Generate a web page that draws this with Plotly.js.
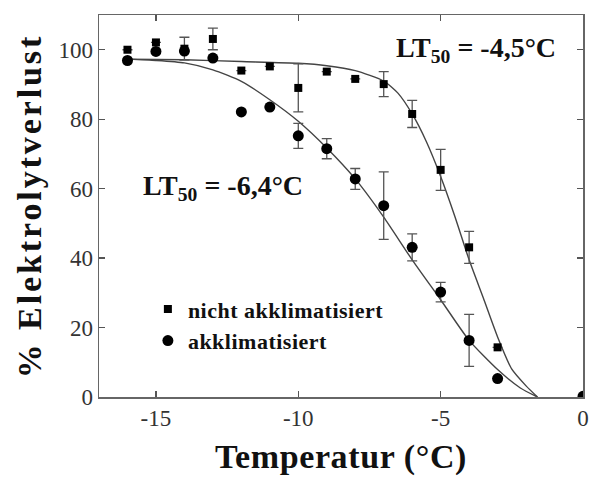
<!DOCTYPE html>
<html>
<head>
<meta charset="utf-8">
<script src="https://cdn.plot.ly/plotly-3.0.1.min.js"></script>
<style>
html,body{margin:0;padding:0;background:#fff;}
#chart{width:589px;height:479px;}
.ytitle{letter-spacing:2.9px;}
.xtitle{letter-spacing:0.6px;}
.legendtext{letter-spacing:0.5px;}
</style>
</head>
<body>
<div id="chart"></div>
<script>
// Measured data: nicht akklimatisiert (squares)
const tempNA = [-16, -15, -14, -13, -12, -11, -10, -9, -8, -7, -6, -5, -4, -3];
const lossNA = [100.0, 102.1, 100.3, 103.1, 94.0, 95.2, 89.0, 93.7, 91.6, 90.1, 81.5, 65.4, 43.1, 14.3];
const errNA  = [0, 0, 3.3, 3.1, 0, 0, 6.9, 0, 0, 3.6, 3.9, 5.9, 4.6, 0];

// Measured data: akklimatisiert (circles)
const tempA = [-16, -15, -14, -13, -12, -11, -10, -9, -8, -7, -6, -5, -4, -3, 0];
const lossA = [96.9, 99.5, 99.6, 97.6, 82.1, 83.5, 75.2, 71.5, 62.8, 55.1, 43.1, 30.2, 16.3, 5.3, 0.2];
const errA  = [0, 0, 0, 0, 0, 0, 3.6, 2.9, 3.0, 9.7, 3.9, 2.8, 7.5, 0, 0];

// Fitted curves
const fitNAx = [-16, -14, -12, -10, -9, -8, -7, -6.5, -6, -5.5, -5, -4.5, -4, -3.5, -3, -2.5, -2, -1.6];
const fitNAy = [97.3, 97.1, 96.6, 96.1, 95.4, 94.0, 91.0, 87.5, 81.5, 73.5, 63.5, 52.0, 39.5, 28.5, 17.3, 8.0, 3.2, 0];
const fitAx  = [-16, -15, -14, -13, -12, -11, -10, -9, -8, -7, -6, -5, -4, -3, -2.2, -1.6];
const fitAy  = [97.3, 96.9, 96.2, 94.2, 90.9, 85.6, 79.4, 71.7, 62.8, 51.8, 39.5, 28.0, 16.3, 7.9, 2.6, 0];

const xTicks = [-15, -10, -5, 0];
const yTicks = [0, 20, 40, 60, 80, 100];
const seriesNames = ['nicht akklimatisiert', 'akklimatisiert'];
const lt50Labels = ['LT<sub>50</sub> = -4,5°C', 'LT<sub>50</sub> = -6,4°C'];

const serif = 'Liberation Serif, Times New Roman, serif';
const lineCol = '#444';

const traces = [
  {x: fitNAx, y: fitNAy, mode: 'lines', line: {color: lineCol, width: 1.4, shape: 'spline', smoothing: 0.6}, showlegend: false, hoverinfo: 'skip'},
  {x: fitAx, y: fitAy, mode: 'lines', line: {color: lineCol, width: 1.4, shape: 'spline', smoothing: 0.6}, showlegend: false, hoverinfo: 'skip'},
  {x: tempNA, y: lossNA, mode: 'markers', name: seriesNames[0],
   marker: {symbol: 'square', size: 8, color: '#000'},
   error_y: {type: 'data', array: errNA, visible: true, color: '#555', thickness: 1.3, width: 5}},
  {x: tempA, y: lossA, mode: 'markers', name: seriesNames[1],
   marker: {symbol: 'circle', size: 11, color: '#000'},
   error_y: {type: 'data', array: errA, visible: true, color: '#555', thickness: 1.3, width: 5}}
];

const layout = {
  width: 589, height: 479,
  margin: {l: 99, r: 6, t: 15, b: 82},
  paper_bgcolor: '#fff', plot_bgcolor: '#fff',
  showlegend: true,
  legend: {x: 0.101, y: 0.285, xanchor: 'left', yanchor: 'top', bgcolor: 'rgba(0,0,0,0)',
           font: {family: serif, size: 22, color: '#111', weight: 'bold'}, itemwidth: 30, tracegroupgap: 0},
  xaxis: {
    range: [-17, 0], tickvals: xTicks, ticktext: xTicks.map(String),
    ticks: 'inside', ticklen: 6, tickcolor: '#555', tickwidth: 1.2,
    showline: true, linecolor: '#666', linewidth: 1.5, mirror: 'ticks',
    showgrid: false, zeroline: false,
    tickfont: {family: serif, size: 23, color: '#333'},
    title: {text: 'Temperatur (°C)', standoff: 14, font: {family: serif, size: 34, color: '#111', weight: 'bold'}}
  },
  yaxis: {
    range: [0, 110], tickvals: yTicks, ticktext: yTicks.map(String),
    ticks: 'inside', ticklen: 6, tickcolor: '#555', tickwidth: 1.2,
    showline: true, linecolor: '#666', linewidth: 1.5, mirror: 'ticks',
    showgrid: false, zeroline: false,
    tickfont: {family: serif, size: 23, color: '#333'},
    title: {text: '% Elektrolytverlust', standoff: 6, font: {family: serif, size: 34, color: '#111', weight: 'bold'}}
  },
  annotations: [
    {x: -3.75, y: 100, xref: 'x', yref: 'y', text: lt50Labels[0], showarrow: false,
     font: {family: serif, size: 28, color: '#111', weight: 'bold'}},
    {x: -12.65, y: 60.3, xref: 'x', yref: 'y', text: lt50Labels[1], showarrow: false,
     font: {family: serif, size: 28, color: '#111', weight: 'bold'}}
  ]
};

Plotly.newPlot('chart', traces, layout, {displayModeBar: false, staticPlot: true});
</script>
</body>
</html>
